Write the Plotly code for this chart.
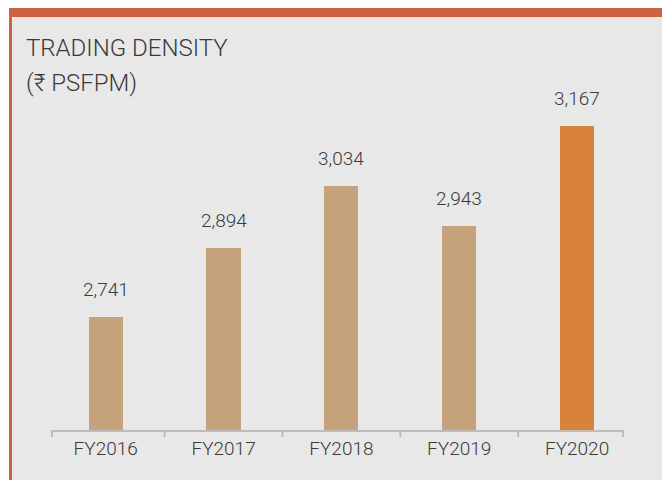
import plotly.graph_objects as go

categories = ["FY2016", "FY2017", "FY2018", "FY2019", "FY2020"]
values = [2741, 2894, 3034, 2943, 3167]
labels = ["2,741", "2,894", "3,034", "2,943", "3,167"]
bar_colors = ["#c5a27b", "#c5a27b", "#c5a27b", "#c5a27b", "#d9823a"]
title_lines = ["TRADING DENSITY", "(₹ PSFPM)"]

FONT = "Roboto"
TXT = "#3a3a3a"

OFF = 8  # page body margin
# plot area in page pixels: x 52..623, y 60..430
W, H = 670, 480
L = 52 - OFF
R = W - (623 - OFF)
T = 60 - OFF
B = H - (430 - OFF)
pw, ph = W - L - R, H - T - B

def px(x):
    return (x - OFF - L) / pw

def py(y):
    return (H - B - (y - OFF)) / ph

fig = go.Figure()
fig.add_trace(go.Bar(
    x=list(range(len(categories))), y=values,
    marker=dict(color=bar_colors, line=dict(width=0)),
    width=0.29, hoverinfo="skip",
))

shapes = [
    dict(type="rect", xref="paper", yref="paper", x0=px(9), x1=px(665.7), y0=py(500), y1=py(7),
         fillcolor="#cd6143", line=dict(width=0), layer="below"),
    dict(type="rect", xref="paper", yref="paper", x0=px(12), x1=px(663), y0=py(500), y1=py(17),
         fillcolor="#e8e8e8", line=dict(width=0), layer="below"),
    dict(type="line", xref="paper", yref="paper", x0=0, x1=0, y0=0, y1=py(437),
         line=dict(color="#bcbcbc", width=2)),
    dict(type="line", xref="paper", yref="paper", x0=1, x1=1, y0=0, y1=py(437),
         line=dict(color="#bcbcbc", width=2)),
]

annotations = []
for i, (v, t) in enumerate(zip(values, labels)):
    annotations.append(dict(x=i, y=v, xref="x", yref="y", text=t, showarrow=False,
                            yanchor="bottom", yshift=14,
                            font=dict(family=FONT, size=19, color=TXT, weight=300)))
annotations.append(dict(x=px(24), y=py(48), xref="paper", yref="paper", text=title_lines[0],
                        showarrow=False, xanchor="left", yanchor="middle",
                        font=dict(family=FONT, size=24, color=TXT, weight=300)))
annotations.append(dict(x=px(24), y=py(83), xref="paper", yref="paper", text=title_lines[1],
                        showarrow=False, xanchor="left", yanchor="middle",
                        font=dict(family=FONT, size=24, color=TXT, weight=300)))

fig.update_layout(
    width=W, height=H,
    margin=dict(l=L, r=R, t=T, b=B, pad=0),
    paper_bgcolor="white", plot_bgcolor="rgba(0,0,0,0)",
    showlegend=False,
    shapes=shapes, annotations=annotations,
    xaxis=dict(
        range=[-0.456, 4.39],
        tickmode="array", tickvals=list(range(len(categories))), ticktext=categories,
        showline=True, linecolor="#bcbcbc", linewidth=2,
        ticks="", showgrid=False, zeroline=False,
        tickfont=dict(family=FONT, size=19, color=TXT, weight=300),
        fixedrange=True,
    ),
    yaxis=dict(range=[2488, 3314.4], visible=False, showgrid=False, fixedrange=True),
    bargap=0,
)

# inner boundary ticks between categories
for i in range(len(categories) - 1):
    fig.add_shape(type="line", xref="x", yref="paper", x0=i + 0.5, x1=i + 0.5, y0=0, y1=py(437),
                  line=dict(color="#bcbcbc", width=2))

fig.write_html("out.html")
